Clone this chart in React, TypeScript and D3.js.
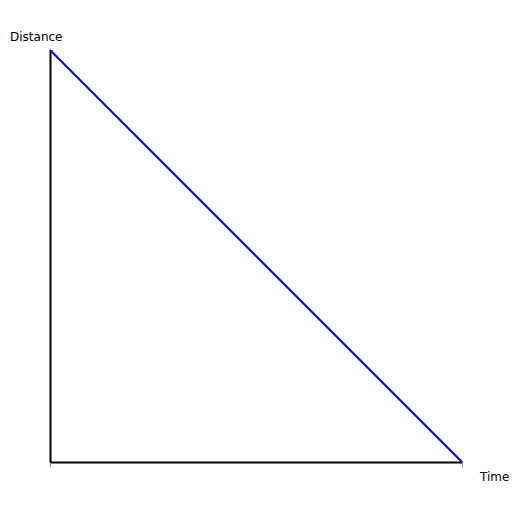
import { useEffect, useRef } from "react";
import * as d3 from "d3";

const times = [0, 10];
const distances = [10, 0];
const xLabel = "Time";
const yLabel = "Distance";

export default function App() {
  const svgRef = useRef<SVGSVGElement>(null);

  useEffect(() => {
    if (!svgRef.current) return;
    const svg = d3.select(svgRef.current);
    svg.selectAll("*").remove();

    const margin = { top: 50, right: 50, bottom: 50, left: 50 };
    const width = 512 - margin.left - margin.right;
    const height = 512 - margin.top - margin.bottom;

    const g = svg.append("g").attr("transform", `translate(${margin.left},${margin.top})`);

    const x = d3.scaleLinear().domain(d3.extent(times) as [number, number]).range([0, width]);
    const y = d3.scaleLinear().domain([0, d3.max(distances)!]).range([height, 0]);

    // Axes: only end ticks, no labels
    const xAxis = g.append("g")
      .attr("transform", `translate(0,${height})`)
      .call(d3.axisBottom(x).tickValues(x.domain()).tickSize(5).tickSizeOuter(0).tickFormat(() => ""));
    xAxis.select(".domain").attr("stroke", "#000").attr("stroke-width", 2);
    xAxis.selectAll(".tick line").attr("stroke", "#888");

    const yAxis = g.append("g")
      .call(d3.axisLeft(y).tickValues([y.domain()[1]]).tickSize(-3).tickSizeOuter(0).tickFormat(() => ""));
    yAxis.select(".domain").attr("stroke", "#000").attr("stroke-width", 2);
    yAxis.selectAll(".tick line").attr("stroke", "#888");

    const pts = times.map((t, i) => [t, distances[i]] as [number, number]);
    const line = d3.line<[number, number]>().x(d => x(d[0])).y(d => y(d[1]));
    g.append("path")
      .datum(pts)
      .attr("fill", "none")
      .attr("stroke", "#0000e6")
      .attr("stroke-width", 2)
      .attr("d", line);

    svg.append("text")
      .attr("x", 10).attr("y", 41)
      .attr("font-family", "DejaVu Sans")
      .attr("font-size", 12)
      .attr("fill", "#000")
      .text(yLabel);

    svg.append("text")
      .attr("x", 480).attr("y", 481)
      .attr("font-family", "DejaVu Sans")
      .attr("font-size", 12)
      .attr("fill", "#000")
      .text(xLabel);
  }, []);

  return (
    <div style={{ position: "absolute", left: 0, top: 0 }}>
      <svg ref={svgRef} width={512} height={512} style={{ display: "block", background: "#fff" }} />
    </div>
  );
}
